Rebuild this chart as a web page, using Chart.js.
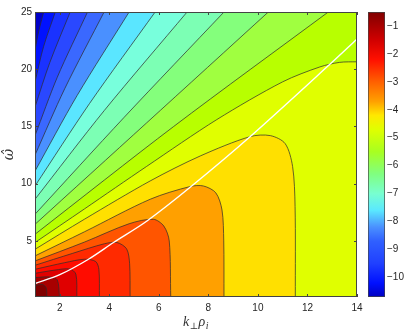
<!DOCTYPE html>
<html>
<head>
<meta charset="utf-8">
<script src="https://cdn.jsdelivr.net/npm/chart.js@4.4.1/dist/chart.umd.min.js"></script>
<style>
  html, body { margin: 0; padding: 0; background: #fff; }
  #wrap { position: relative; width: 415px; height: 333px; }
  #main { position: absolute; left: 0; top: 0; }
  #bar { position: absolute; left: 355px; top: 0; }
</style>
</head>
<body>
<div id="wrap">
  <div id="main"><canvas id="contour" width="415" height="333"></canvas></div>
  <div id="bar"><canvas id="colorbar" width="60" height="333"></canvas></div>
</div>
<script>
// contour levels (log scale), lowest first
const levels = [-10.5, -10, -9.5, -9, -8.5, -8, -7.5, -7, -6.5, -6, -5.5, -5, -4.5, -4, -3.5, -3, -2.5, -2, -1.5, -1];

// contour lines, [k_perp rho_i, omega_hat]
const lineM105 = [[1, 21.7], [1.15, 23.3], [1.35, 25]];
const lineM100 = [[1, 18.9], [1.35, 22.0], [1.82, 25]];
const lineM95 = [[1, 16.7], [1.6, 20.6], [2.42, 25]];
const lineM90 = [[1, 14.2], [1.9, 19.3], [3.12, 25]];
const lineM85 = [[1, 12.5], [2.2, 18.3], [3.79, 25]];
const lineM80 = [[1, 11.1], [2.7, 17.7], [4.8, 25]];
const lineM75 = [[1, 9.8], [3.2, 17.0], [5.85, 25]];
const lineM70 = [[1, 8.64], [3.8, 16.4], [7.14, 25]];
const lineM65 = [[1, 7.33], [4.6, 15.8], [8.63, 25]];
const lineM60 = [[1, 6.45], [5.5, 15.3], [10.42, 25]];
const lineM55 = [[1, 5.58], [6.6, 15.0], [12.84, 25]];
const lineM50 = [[1, 4.86], [3, 7.8], [5.5, 11.5], [8.34, 15.6], [11, 18.9], [12.5, 20.2], [13.3, 20.6], [14, 20.65]];
const lineM45 = [[1, 4.27], [3, 6.9], [5.65, 10.24], [7.67, 12.42], [9.68, 14.11], [10.5, 14.2], [11.1, 13.5], [11.4, 11.5], [11.5, 8], [11.51, 0.1]];
const lineM40 = [[1, 3.69], [3, 5.8], [5.65, 8.64], [7.26, 9.75], [7.8, 9.8], [8.3, 9.2], [8.55, 7.7], [8.62, 5], [8.63, 0.1]];
const lineM35 = [[1, 3.25], [3, 4.9], [4.8, 6.5], [5.78, 6.89], [6.2, 6.3], [6.42, 5], [6.48, 0.1]];
const lineM30 = [[1, 2.87], [2.5, 3.9], [3.8, 4.75], [4.31, 4.86], [4.7, 4.3], [4.82, 3], [4.84, 0.1]];
const lineM25 = [[1, 2.52], [2.2, 3.1], [3.0, 3.4], [3.45, 3.2], [3.58, 2.5], [3.6, 0.1]];
const lineM20 = [[1, 2.17], [1.8, 2.45], [2.4, 2.55], [2.65, 2.1], [2.69, 0.1]];
const lineM15 = [[1, 1.8], [1.6, 1.85], [1.9, 1.6], [1.99, 0.1]];
const lineM10 = [[1, 1.1], [1.3, 1.2], [1.45, 0.9], [1.48, 0.1]];

// white curve
const whiteCurve = [[1, 1.27], [2, 2.05], [3.16, 3.4], [4.17, 4.86], [5.52, 6.74], [7.3, 9.75], [9.68, 14.1], [12.98, 20.58], [13.98, 22.6]];

const xTicks = [2, 4, 6, 8, 10, 12, 14];
const yTicks = [5, 10, 15, 20, 25];
const barTicks = [-1, -2, -3, -4, -5, -6, -7, -8, -9, -10];
const dataMin = -10.7;
const dataMax = -0.5;

const contourLines = [lineM105, lineM100, lineM95, lineM90, lineM85, lineM80, lineM75, lineM70, lineM65, lineM60,
  lineM55, lineM50, lineM45, lineM40, lineM35, lineM30, lineM25, lineM20, lineM15, lineM10];

// fill colour of region above each level; first one is the background below -10.5
const bandColors = ['#0000c8', '#0012ff', '#1a32ff', '#2a48ff', '#3a68ff', '#4a90ff', '#5ae6ff', '#78ffdc', '#7cffb4',
  '#84ff7c', '#a0ff40', '#b8ff00', '#e0ff00', '#ffe000', '#ffa000', '#ff5500', '#ff2a00', '#ff0c00', '#e00000', '#a80000', '#800000'];

// lines that leave through the top or right edge get carried on outside the axes,
// so the fill to the bottom closes the band properly (the overshoot is clipped)
function withExit(line) {
  const pts = line.map(p => ({ x: p[0], y: p[1] }));
  const last = line[line.length - 1];
  const prev = line[line.length - 2];
  if (last[1] >= 25) {
    pts.push({ x: last[0] + (last[0] - prev[0]) * 0.5, y: 25 + (25 - prev[1]) * 0.5 });
    pts.push({ x: 16, y: 45 });
  } else if (last[0] >= 14) {
    pts.push({ x: 15, y: last[1] + 0.05 });
  }
  return pts;
}

const datasets = [];
// background band
datasets.push({
  data: [{ x: 0, y: 30 }, { x: 16, y: 30 }],
  backgroundColor: bandColors[0], borderWidth: 0, pointRadius: 0, fill: 'start', order: 1000
});
contourLines.forEach((line, i) => {
  datasets.push({
    data: withExit(line), backgroundColor: bandColors[i + 1], borderWidth: 0, pointRadius: 0,
    fill: 'start', tension: 0.3, order: 500 - i
  });
});
contourLines.forEach(line => {
  datasets.push({
    data: withExit(line), borderColor: 'rgba(45,45,45,0.8)', borderWidth: 0.9, pointRadius: 0,
    fill: false, tension: 0.3, order: 100
  });
});
datasets.push({
  data: whiteCurve.map(p => ({ x: p[0], y: p[1] })), borderColor: '#ffffff', borderWidth: 1.4, pointRadius: 0,
  fill: false, tension: 0.3, order: 0
});

const tickFont = { family: '"Liberation Sans", Arial, sans-serif', size: 10 };

const frame = {
  id: 'frame',
  afterDraw(chart) {
    const { ctx, chartArea: a, scales: { x, y } } = chart;
    ctx.save();
    ctx.strokeStyle = '#444';
    ctx.lineWidth = 1;
    ctx.strokeRect(a.left + 0.5, a.top + 0.5, a.right - a.left - 1, a.bottom - a.top - 1);
    ctx.beginPath();
    xTicks.forEach(v => {
      const px = Math.round(x.getPixelForValue(v)) + 0.5;
      ctx.moveTo(px, a.bottom); ctx.lineTo(px, a.bottom - 3);
      ctx.moveTo(px, a.top); ctx.lineTo(px, a.top + 3);
    });
    yTicks.forEach(v => {
      const py = Math.round(y.getPixelForValue(v)) + 0.5;
      ctx.moveTo(a.left, py); ctx.lineTo(a.left + 3, py);
      ctx.moveTo(a.right, py); ctx.lineTo(a.right - 3, py);
    });
    ctx.stroke();

    // x label k_perp rho_i
    ctx.fillStyle = '#333';
    ctx.textBaseline = 'alphabetic';
    const big = 'italic 14px "Liberation Serif", serif';
    const small = '9px "DejaVu Serif", serif';
    const smallIt = 'italic 10px "Liberation Serif", serif';
    const parts = [['k', big, 0], ['\u22a5', small, 3], ['\u03c1', big, 0], ['i', smallIt, 3]];
    let w = 0;
    parts.forEach(p => { ctx.font = p[1]; w += ctx.measureText(p[0]).width + 0.5; });
    let xx = (a.left + a.right) / 2 - w / 2;
    parts.forEach(p => {
      ctx.font = p[1];
      ctx.fillText(p[0], xx, 326 + p[2]);
      xx += ctx.measureText(p[0]).width + 0.5;
    });

    // y label omega hat
    ctx.translate(13, (a.top + a.bottom) / 2);
    ctx.rotate(-Math.PI / 2);
    ctx.font = 'italic 14px "DejaVu Serif", serif';
    ctx.textAlign = 'center';
    ctx.fillText('\u03c9\u0302', 0, 0);
    ctx.restore();
  }
};

new Chart(document.getElementById('contour'), {
  type: 'line',
  data: { datasets },
  options: {
    responsive: false,
    animation: false,
    events: [],
    layout: { padding: { left: 0, right: 58, top: 12, bottom: 0 } },
    plugins: { legend: { display: false }, tooltip: { enabled: false } },
    scales: {
      x: {
        type: 'linear', min: 1, max: 14,
        afterBuildTicks: s => { s.ticks = xTicks.map(v => ({ value: v })); },
        afterFit: s => { s.height = 36; },
        grid: { display: false, drawTicks: false },
        border: { display: false },
        ticks: { font: tickFont, color: '#262626', padding: 5, maxRotation: 0 }
      },
      y: {
        type: 'linear', min: 0.1, max: 25,
        afterBuildTicks: s => { s.ticks = yTicks.map(v => ({ value: v })); },
        afterFit: s => { s.width = 35; },
        grid: { display: false, drawTicks: false },
        border: { display: false },
        ticks: { font: tickFont, color: '#262626', padding: 3 }
      }
    }
  },
  plugins: [frame]
});

// colorbar
const jetStops = [
  [-10.7, '#0000c0'], [-10.2, '#0010ff'], [-9.5, '#2040ff'], [-8.7, '#3060ff'], [-8.2, '#4a90ff'],
  [-7.6, '#5ae8ff'], [-7.0, '#78ffd0'], [-6.3, '#80ff80'], [-5.5, '#a8ff20'], [-4.7, '#e0ff00'],
  [-4.2, '#ffe800'], [-3.7, '#ffa000'], [-3.0, '#ff6000'], [-2.2, '#ff1000'], [-1.5, '#d00000'], [-0.5, '#800000']
];

new Chart(document.getElementById('colorbar'), {
  type: 'bar',
  data: {
    labels: [''],
    datasets: [{
      data: [[dataMin, dataMax]],
      borderColor: '#444', borderWidth: 1, borderSkipped: false,
      barPercentage: 1, categoryPercentage: 1,
      backgroundColor: (c) => {
        const chart = c.chart;
        const a = chart.chartArea;
        if (!a) return '#888';
        const ys = chart.scales.y;
        const g = chart.ctx.createLinearGradient(0, ys.getPixelForValue(dataMin), 0, ys.getPixelForValue(dataMax));
        jetStops.forEach(s => g.addColorStop((s[0] - dataMin) / (dataMax - dataMin), s[1]));
        return g;
      }
    }]
  },
  options: {
    responsive: false,
    animation: false,
    events: [],
    layout: { padding: { left: 13, right: 0, top: 12, bottom: 36 } },
    plugins: { legend: { display: false }, tooltip: { enabled: false } },
    scales: {
      x: { display: false },
      y: {
        position: 'right', min: dataMin, max: dataMax,
        afterBuildTicks: s => { s.ticks = barTicks.map(v => ({ value: v })); },
        afterFit: s => { s.width = 30; },
        grid: { display: false, drawTicks: false },
        border: { display: false },
        ticks: { font: tickFont, color: '#262626', padding: 2, callback: v => '\u2212' + Math.abs(v) }
      }
    }
  }
});
</script>
</body>
</html>
